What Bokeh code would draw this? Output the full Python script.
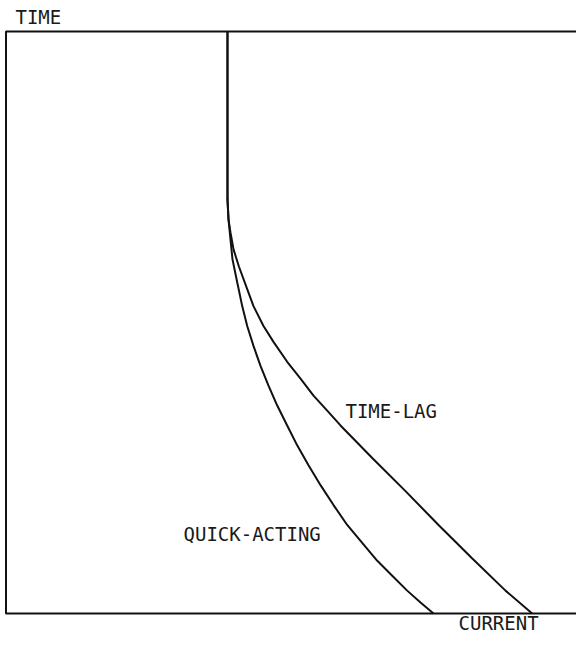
from bokeh.plotting import figure
from bokeh.models import Range1d, BoxAnnotation, Label
from bokeh.embed import file_html
from bokeh.resources import INLINE

# Time-current characteristics (arbitrary units: current 0..100, time 0..100)
quick_current = [38.52, 38.52, 38.70, 39.04, 39.39, 40.21, 41.08, 41.95, 43.04,
                 44.26, 45.65, 47.17, 48.90, 50.64, 52.61, 54.70, 56.96, 59.34,
                 61.95, 64.57, 67.17, 69.77, 72.09, 74.35]
quick_time = [100.0, 71.11, 67.69, 64.27, 60.85, 56.92, 52.82, 49.40, 45.98,
              42.56, 39.15, 35.73, 32.31, 28.89, 25.47, 22.05, 18.63, 15.21,
              12.14, 9.06, 6.50, 3.93, 1.88, 0.0]

lag_current = [38.52, 38.52, 38.70, 39.04, 39.57, 40.49, 41.95, 43.04, 44.78,
               46.52, 48.90, 51.22, 53.48, 55.86, 58.17, 63.74, 69.48, 75.22,
               80.96, 86.87, 91.51]
lag_time = [100.0, 71.11, 67.69, 65.47, 62.56, 59.66, 55.73, 52.82, 49.40,
            46.67, 43.25, 40.34, 37.44, 34.87, 32.31, 26.67, 21.03, 15.21,
            9.57, 3.93, 0.0]

curve_names = ["QUICK-ACTING", "TIME-LAG"]
axis_names = ["TIME", "CURRENT"]

FONT = "DejaVu Sans Mono"
INK = "#111111"

p = figure(width=576, height=634, output_backend="svg", toolbar_location=None,
           x_range=Range1d(-0.9565, 99.217), y_range=Range1d(-3.608, 105.326),
           min_border_left=0, min_border_right=0, min_border_top=0,
           min_border_bottom=0)
p.axis.visible = False
p.grid.visible = False
p.outline_line_color = None
p.background_fill_color = "white"
p.border_fill_color = "white"

# frame: time axis (left), current axis (bottom) and top edge; right side runs off the page
p.add_layout(BoxAnnotation(left=0, right=120, bottom=0, top=100,
                           fill_color=None, fill_alpha=0,
                           line_color=INK, line_width=2, line_alpha=1))

p.line(quick_current, quick_time, line_color=INK, line_width=2)
p.line(lag_current, lag_time, line_color=INK, line_width=2)

label_style = dict(text_font=FONT, text_font_size="19px", text_color="#1a1a1a",
                   text_baseline="alphabetic", text_align="left")
p.add_layout(Label(x=30.87, y=13.66, text=curve_names[0], **label_style))
p.add_layout(Label(x=59.04, y=34.79, text=curve_names[1], **label_style))
p.add_layout(Label(x=1.65, y=102.49, text=axis_names[0], **label_style))
p.add_layout(Label(x=78.70, y=-1.684, text=axis_names[1], **label_style))

open("out.html", "w").write(file_html(p, INLINE))
